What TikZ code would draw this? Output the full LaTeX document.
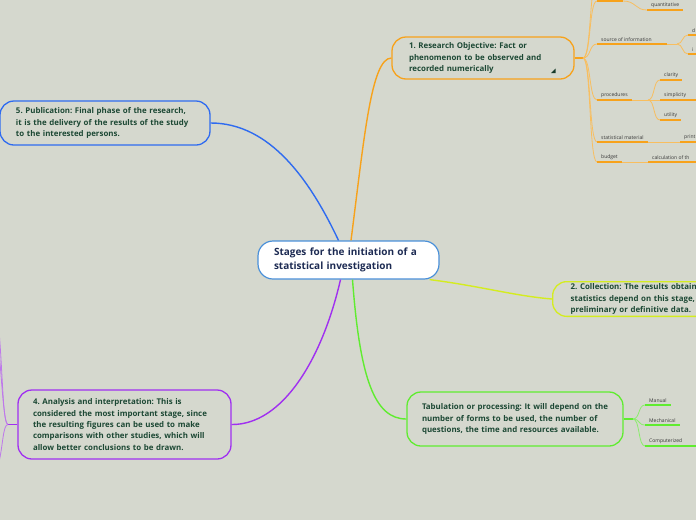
\documentclass[tikz,border=0pt]{standalone}
\usepackage{fontspec}
\setmainfont{Open Sans}
\frenchspacing
\hfuzz=50pt
\definecolor{bg}{RGB}{213,216,206}
\definecolor{orng}{RGB}{247,162,27}
\definecolor{orngl}{RGB}{248,190,95}
\definecolor{blu}{RGB}{47,107,240}
\definecolor{cblu}{RGB}{74,144,217}
\definecolor{purp}{RGB}{160,48,240}
\definecolor{purpl}{RGB}{190,120,235}
\definecolor{grn}{RGB}{96,236,48}
\definecolor{grnl}{RGB}{140,236,110}
\definecolor{ylw}{RGB}{212,236,32}
\definecolor{txtg}{RGB}{28,72,52}
\definecolor{txtn}{RGB}{29,43,83}
\definecolor{txtl}{RGB}{55,55,55}
\tikzset{
  stagebox/.style={rounded corners=14pt, line width=1.3pt, align=left,
    inner ysep=2pt, text=txtg, font=\fontsize{7.9}{11.4}\selectfont\bfseries},
  conn/.style={line width=1.4pt},
  sub/.style={line width=0.8pt},
  ul/.style={line width=1.8pt},
  lab/.style={anchor=south west, inner xsep=4pt, inner ysep=2.5pt, text=txtl,
    font=\fontsize{5}{6}\selectfont}
}
\begin{document}
\begin{tikzpicture}[x=1pt,y=-1pt]
\useasboundingbox (0,0) rectangle (696,520);
\clip (0,0) rectangle (696,520);
\fill[bg] (0,0) rectangle (696,520);

% central node
\node[rounded corners=15pt, line width=1.2pt, draw=cblu, fill=white, align=left,
  text width=149pt, inner xsep=16pt, minimum height=38pt, text=txtn,
  font=\fontsize{10}{14}\selectfont\bfseries] (c) at (348.5,260)
  {Stages for the initiation of a\\statistical investigation};

% stage nodes
\node[stagebox, draw=orng, text width=148pt, inner xsep=17pt, minimum height=42pt] (n1) at (483,58)
  {\mbox{1. Research Objective: Fact or}\\\mbox{phenomenon to be observed and}\\recorded numerically};
\fill[txtg!80!black] (551,73) -- (555.5,73) -- (555.5,68.5) -- cycle;

\node[stagebox, draw=blu, text width=178pt, inner xsep=16pt, minimum height=44pt] (n5) at (105,123)
  {\mbox{5. Publication: Final phase of the research,}\\\mbox{it is the delivery of the results of the study}\\to the interested persons.};

\node[stagebox, draw=ylw, text width=190pt, inner xsep=18pt, minimum height=34pt, anchor=west] (n2) at (552,299)
  {\mbox{2. Collection: The results obtain}\\\mbox{statistics depend on this stage,}\\preliminary or definitive data.};

\node[stagebox, draw=grn, text width=186pt, inner xsep=15pt, minimum height=54pt] (tab) at (515,419)
  {\mbox{Tabulation or processing: It will depend on the}\\\mbox{number of forms to be used, the number of}\\\mbox{questions, the time and resources available.}};

\node[stagebox, draw=purp, text width=183pt, inner xsep=15pt, minimum height=69pt] (n4) at (124.5,424.5)
  {\mbox{4. Analysis and interpretation: This is}\\\mbox{considered the most important stage, since}\\\mbox{the resulting figures can be used to make}\\\mbox{comparisons with other studies, which will}\\\mbox{allow better conclusions to be drawn.}};

% main connectors
\draw[conn, orng] ([xshift=2.5pt]c.north) .. controls (364,140) and (371,58) .. (n1.west);
\draw[conn, blu] ([xshift=-10pt]c.north) .. controls (310,180) and (270,123) .. (n5.east);
\draw[conn, purp] ([xshift=-8pt]c.south) .. controls (322,360) and (282,425) .. (n4.east);
\draw[conn, grn] ([xshift=4pt]c.south) .. controls (360,380) and (375,419) .. (tab.west);
\draw[conn, ylw] ([xshift=-10pt]c.south east) .. controls (480,286) and (515,296) .. (n2.west);

% ---- children of node 1
\coordinate (j1) at (583,58);
\draw[conn, orng] (n1.east) -- (j1);
\coordinate (top0) at (597,1);
\coordinate (top1) at (623,1);
\node[lab] (quant) at (647,10) {quantitative};
\node[lab] (src) at (597,44) {source of information};
\coordinate (srcj) at (677,44);
\node[lab] (dd) at (688,35) {d};
\node[lab] (ii) at (688,54) {i};
\node[lab] (proc) at (597,100) {procedures};
\coordinate (procj) at (648,100);
\node[lab] (clar) at (660,80) {clarity};
\node[lab] (simp) at (660,100) {simplicity};
\node[lab] (util) at (660,120) {utility};
\node[lab] (stat) at (597,142) {statistical material};
\node[lab] (prnt) at (680,142) {print};
\node[lab] (budg) at (597,162) {budget};
\node[lab] (calc) at (648,162) {calculation of th};

\begin{scope}[orngl, sub]
\draw (j1) .. controls (591,58) and (589,-10) .. (597,-25);
\draw (j1) .. controls (591,58) and (589,1) .. (top0);
\draw (j1) .. controls (591,58) and (589,44) .. (src.south west);
\draw (j1) .. controls (591,58) and (589,100) .. (proc.south west);
\draw (j1) .. controls (591,58) and (589,142) .. (stat.south west);
\draw (j1) .. controls (591,58) and (589,162) .. (budg.south west);
\draw (top1) .. controls (636,1) and (635,10) .. (quant.south west);
\draw ([xshift=70pt]src.south west) -- (srcj);
\draw (srcj) .. controls (683,44) and (682,35) .. (dd.south west);
\draw (srcj) .. controls (683,44) and (682,54) .. (ii.south west);
\draw (proc.south east) -- (procj);
\draw (procj) .. controls (655,100) and (653,80) .. (clar.south west);
\draw (procj) -- (simp.south west);
\draw (procj) .. controls (655,100) and (653,120) .. (util.south west);
\draw (stat.south east) -- (prnt.south west);
\draw (budg.south east) -- (calc.south west);
\end{scope}
\begin{scope}[orng, ul]
\draw (top0) -- (top1);
\draw (quant.south west) -- (quant.south east);
\draw (src.south west) -- ([xshift=70pt]src.south west);
\draw (dd.south west) -- ++(20,0);
\draw (ii.south west) -- ++(20,0);
\draw (proc.south west) -- (proc.south east);
\draw (clar.south west) -- (clar.south east);
\draw (simp.south west) -- ++(40,0);
\draw (util.south west) -- (util.south east);
\draw (stat.south west) -- (stat.south east);
\draw (prnt.south west) -- ++(30,0);
\draw (budg.south west) -- (budg.south east);
\draw (calc.south west) -- ++(60,0);
\end{scope}

% ---- children of tabulation
\coordinate (tj) at (633,419);
\draw[conn, grn] (tab.east) -- (tj);
\node[lab] (man) at (645,405) {Manual};
\node[lab] (mech) at (645,425) {Mechanical};
\node[lab] (comp) at (645,446) {Computerized};
\begin{scope}[grnl, sub]
\draw (tj) .. controls (640,419) and (638,405) .. (man.south west);
\draw (tj) .. controls (640,419) and (638,425) .. (mech.south west);
\draw (tj) .. controls (640,419) and (638,446) .. (comp.south west);
\end{scope}
\begin{scope}[grn, ul]
\draw (man.south west) -- (man.south east);
\draw (mech.south west) -- (mech.south east);
\draw (comp.south west) -- ++(60,0);
\end{scope}

% ---- left of node 4
\coordinate (lj) at (8,424.5);
\draw[conn, purp] (n4.west) -- (lj);
\begin{scope}[purpl, sub]
\draw (lj) .. controls (3,424.5) and (3,380) .. (-1,330);
\draw (lj) .. controls (4,424.5) and (2,385) .. (-1,350);
\draw (lj) .. controls (3,424.5) and (3,445) .. (-1,462);
\end{scope}
\end{tikzpicture}
\end{document}
